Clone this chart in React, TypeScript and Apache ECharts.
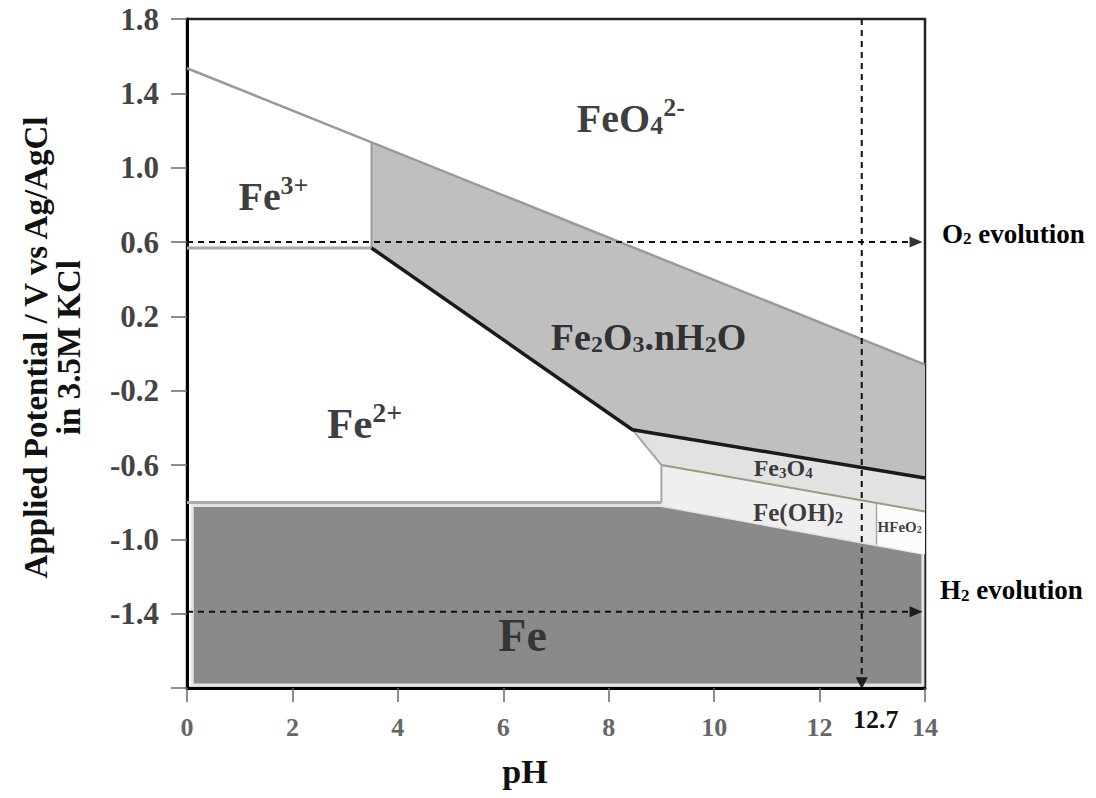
import React, { useEffect, useRef } from "react";
import * as echarts from "echarts";

// ---------- axes ----------
const PH_MIN = 0;
const PH_MAX = 14;
const PH_STEP = 2;
const E_MIN = -1.8;
const E_MAX = 1.8;
const E_STEP = 0.4;
const X_NAME = "pH";
const Y_NAME = "Applied Potential / V vs Ag/AgCl\nin 3.5M KCl";

// ---------- stability regions (pH, E) ----------
const fe2o3Region = [[3.5, 1.133], [14, -0.06], [14, -0.67], [8.45, -0.41], [3.5, 0.568]];
const fe3o4Region = [[8.45, -0.41], [14, -0.67], [14, -0.85], [9.0, -0.6]];
const feoh2Region = [[9.0, -0.6], [13.08, -0.804], [13.08, -1.029], [9.0, -0.818]];
const hfeo2Region = [[13.08, -0.804], [14, -0.85], [14, -1.08], [13.08, -1.029]];
const feRegion = [[0.1, -0.818], [9.0, -0.818], [13.96, -1.075], [13.96, -1.784], [0.1, -1.784]];

// ---------- boundary lines ----------
const upperBoundary = [[0, 1.535], [14, -0.06]];
const fe3Fe2Line = [[0, 0.568], [3.5, 0.568]];
const fe3Fe2o3Line = [[3.5, 0.568], [3.5, 1.133]];
const fe2Fe2o3Line = [[3.5, 0.568], [8.45, -0.41], [14, -0.67]];
const fe2Fe3o4Line = [[8.45, -0.41], [9.0, -0.6]];
const fe3o4Feoh2Line = [[9.0, -0.6], [14, -0.85]];
const fe2Feoh2Line = [[9.0, -0.6], [9.0, -0.802]];
const fe2FeLine = [[0, -0.802], [9.0, -0.802]];
const feoh2Hfeo2Line = [[13.08, -0.804], [13.08, -1.029]];

// ---------- reference lines ----------
const O2_LEVEL = 0.6;
const H2_LEVEL = -1.39;
const MARK_PH = 12.8;
const MARK_LABEL = "12.7";
const o2Line = [[0, O2_LEVEL], [13.72, O2_LEVEL]];
const h2Line = [[0, H2_LEVEL], [13.72, H2_LEVEL]];
const markLineV = [[MARK_PH, 1.8], [MARK_PH, -1.74]];
const arrowRight = [[13.83, O2_LEVEL], [13.83, H2_LEVEL]];
const arrowDown = [[MARK_PH, -1.775]];

// ---------- region labels ----------
const labelTexts = [
  "{m|FeO}{sub|4}{sup|2-}",
  "{m|Fe}{sup|3+}",
  "{m|Fe}{sup|2+}",
  "{m|Fe}{sub|2}{m|O}{sub|3}{m|.nH}{sub|2}{m|O}",
  "{m|Fe}{sub|3}{m|O}{sub|4}",
  "{m|Fe(OH)}{sub|2}",
  "{m|HFeO}{sub|2}",
  "{m|Fe}",
];
const labelPos = [
  [8.42, 1.275],
  [1.64, 0.855],
  [3.37, -0.366],
  [8.755, 0.1],
  [11.31, -0.611],
  [11.59, -0.848],
  [13.52, -0.928],
  [6.365, -1.504],
];
const labelSizes = [40, 40, 43, 38, 24, 25, 15, 46];
const o2Text = "{m|O}{sub|2}{m| evolution}";
const h2Text = "{m|H}{sub|2}{m| evolution}";

const SERIF = "'Liberation Serif', 'Times New Roman', serif";

function richFor(size: number, color = "#111") {
  const s = Math.round(size * 0.64);
  return {
    m: {
      fontSize: size,
      fontWeight: "bold",
      fontFamily: SERIF,
      color,
      lineHeight: Math.round(size * 1.1),
      verticalAlign: "bottom",
      padding: [Math.round(size * 0.15), 0, 0, 0],
    },
    sub: {
      fontSize: s,
      fontWeight: "bold",
      fontFamily: SERIF,
      color,
      lineHeight: s,
      verticalAlign: "bottom",
    },
    sup: {
      fontSize: s,
      fontWeight: "bold",
      fontFamily: SERIF,
      color,
      lineHeight: s,
      verticalAlign: "top",
    },
  };
}

function regionSeries(pts: number[][], fill: string, stroke: string, lw: number) {
  return {
    type: "custom",
    silent: true,
    data: [[pts[0][0], pts[0][1]]],
    renderItem: (_p: any, api: any) => ({
      type: "polygon",
      shape: { points: pts.map((p) => api.coord(p)) },
      style: { fill, stroke, lineWidth: lw },
    }),
    z: 1,
  };
}

function lineSeries(pts: number[][], color: string, width: number, type: any = "solid", z = 3) {
  return {
    type: "line",
    data: pts,
    showSymbol: false,
    symbol: "none",
    silent: true,
    lineStyle: { color, width, type },
    z,
  };
}

export default function App() {
  const ref = useRef<HTMLDivElement>(null);
  useEffect(() => {
    if (!ref.current) return;
    const chart = echarts.init(ref.current, undefined, { renderer: "svg" });
    const option: any = {
      animation: false,
      backgroundColor: "#ffffff",
      grid: {
        left: 187,
        right: 171,
        top: 19,
        bottom: 110,
        show: true,
        borderColor: "#222",
        borderWidth: 2.5,
        backgroundColor: "transparent",
      },
      xAxis: {
        type: "value",
        min: PH_MIN,
        max: PH_MAX,
        interval: PH_STEP,
        name: X_NAME,
        nameLocation: "middle",
        nameGap: 66,
        nameTextStyle: {
          fontSize: 34,
          fontWeight: "bold",
          fontFamily: SERIF,
          color: "#111",
          padding: [0, 62, 0, 0],
        },
        axisLine: { show: true, onZero: false, lineStyle: { color: "#000", width: 3 } },
        axisTick: { show: true, length: 14, lineStyle: { color: "#666", width: 1.5 } },
        axisLabel: {
          margin: 26,
          fontSize: 26,
          fontWeight: "bold",
          fontFamily: SERIF,
          color: "#666",
          formatter: (v: number) => String(Math.round(v)),
        },
        splitLine: { show: false },
      },
      yAxis: {
        type: "value",
        min: E_MIN,
        max: E_MAX,
        interval: E_STEP,
        name: Y_NAME,
        nameLocation: "middle",
        nameRotate: 90,
        nameGap: 102,
        nameTextStyle: {
          fontSize: 33,
          lineHeight: 33,
          fontWeight: "bold",
          fontFamily: SERIF,
          color: "#111",
          align: "center",
          padding: [0, 0, 0, 12],
        },
        axisLine: { show: true, onZero: false, lineStyle: { color: "#000", width: 3 } },
        axisTick: { show: true, length: 16, lineStyle: { color: "#666", width: 1.5 } },
        axisLabel: {
          margin: 28,
          fontSize: 31,
          fontWeight: "bold",
          fontFamily: SERIF,
          color: "#444",
          formatter: (v: number) => (v < E_MIN + 0.01 ? "" : v.toFixed(1)),
        },
        splitLine: { show: false },
      },
      series: [
        regionSeries(feRegion, "#8a8a8a", "#e4e4e4", 3),
        regionSeries(fe2o3Region, "#bfbfbf", "none", 0),
        regionSeries(fe3o4Region, "#e2e2e2", "none", 0),
        regionSeries(feoh2Region, "#efefef", "none", 0),
        regionSeries(hfeo2Region, "#fbfbfb", "none", 0),
        lineSeries(upperBoundary, "#9a9a9a", 2.5),
        lineSeries(fe3Fe2Line, "#a8a8a8", 3),
        lineSeries(fe3Fe2o3Line, "#9a9a9a", 2),
        lineSeries(fe2Fe3o4Line, "#a8a8a8", 2),
        lineSeries(fe3o4Feoh2Line, "#9a9a80", 2),
        lineSeries(fe2Feoh2Line, "#a8a8a8", 2),
        lineSeries(fe2FeLine, "#acacac", 3),
        lineSeries(feoh2Hfeo2Line, "#a8a8a8", 1.5),
        lineSeries(fe2Fe2o3Line, "#1a1a1a", 3.5, "solid", 4),
        lineSeries(o2Line, "#111", 2, [6, 5], 5),
        lineSeries(h2Line, "#111", 2, [6, 5], 5),
        lineSeries(markLineV, "#111", 2, [6, 5], 5),
        {
          type: "scatter",
          silent: true,
          data: arrowRight,
          symbol: "path://M0,0L10,5L0,10Z",
          symbolSize: [13, 11],
          itemStyle: { color: "#000" },
          z: 6,
        },
        {
          type: "scatter",
          silent: true,
          data: arrowDown,
          symbol: "path://M0,0L10,0L5,10Z",
          symbolSize: [12, 12],
          itemStyle: { color: "#000" },
          z: 6,
        },
        {
          type: "scatter",
          silent: true,
          symbolSize: 1,
          itemStyle: { color: "rgba(0,0,0,0)" },
          z: 7,
          data: labelPos.map((p, i) => ({
            value: p,
            label: {
              show: true,
              position: "inside",
              formatter: labelTexts[i],
              rich: richFor(labelSizes[i], i === 7 ? "#1e1e1e" : "#0a0a0a"),
            },
          })),
        },
      ],
    };
    chart.setOption(option);

    const pO2 = chart.convertToPixel({ gridIndex: 0 }, [PH_MAX, O2_LEVEL]) as number[];
    const pH2 = chart.convertToPixel({ gridIndex: 0 }, [PH_MAX, H2_LEVEL]) as number[];
    const pMark = chart.convertToPixel({ gridIndex: 0 }, [MARK_PH, E_MIN]) as number[];
    chart.setOption({
      graphic: [
        {
          type: "text",
          x: pO2[0] + 17,
          y: pO2[1] - 10,
          style: { text: o2Text, rich: richFor(27), align: "left", verticalAlign: "middle" },
        },
        {
          type: "text",
          x: pH2[0] + 15,
          y: pH2[1] - 23,
          style: { text: h2Text, rich: richFor(27), align: "left", verticalAlign: "middle" },
        },
        {
          type: "text",
          x: pMark[0] + 14,
          y: pMark[1] + 31,
          style: {
            text: MARK_LABEL,
            fontSize: 26,
            fontWeight: "bold",
            fontFamily: SERIF,
            fill: "#111",
            align: "center",
            verticalAlign: "middle",
          },
        },
      ],
    });
    return () => chart.dispose();
  }, []);
  return (
    <div
      ref={ref}
      style={{ position: "fixed", left: 0, top: 0, width: 1096, height: 798, background: "#fff" }}
    />
  );
}
